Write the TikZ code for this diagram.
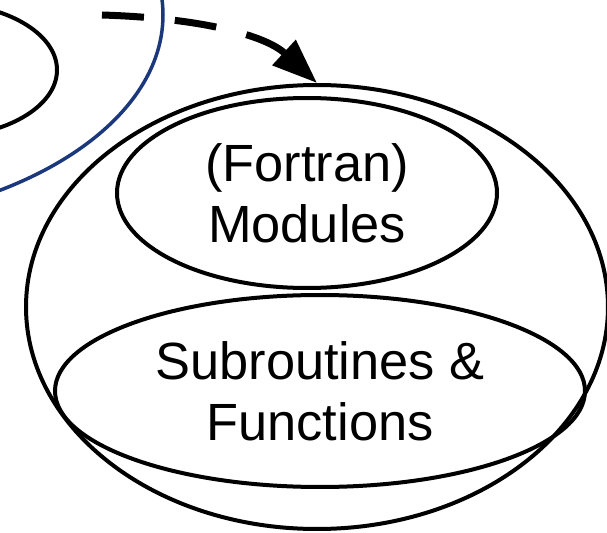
\documentclass[tikz,border=0pt]{standalone}
\usepackage{fontspec}
\setmainfont{Liberation Sans}
\usetikzlibrary{shapes.geometric,arrows.meta}

\begin{document}
\begin{tikzpicture}[
		unit/.style={draw,ellipse,line width=0.08cm,inner sep=0pt,align=center,
			font=\fontsize{29.8}{34.7}\selectfont},
		]
		\useasboundingbox (0,0) rectangle (12.14,10.64);
		\draw [line width=0.08cm] (-1.2,9.24) ellipse [x radius=2.34, y radius=1.34]; % left
		\draw [line width=0.07cm,color={rgb,255:red,28;green,56;blue,125}] (-4.0,10.34) ellipse [x radius=7.26, y radius=4.2];
		\node [unit,minimum width=11.64cm,minimum height=8.88cm] (prog) at (6.34,4.50) {};
		\node [unit,minimum width=7.6cm,minimum height=3.8cm] (mods) at (6.14,6.78) {(Fortran)\\Modules};
		\node [unit,minimum width=10.6cm,minimum height=3.84cm] (subs) at (6.40,2.82) {Subroutines \&\\Functions};
		\coordinate (from) at (2.04,10.34);
		\draw [line width=0.14cm,dash pattern=on 0.84cm off 0.62cm,-{Triangle[length=0.9cm,width=0.66cm]}]
			(from) .. controls (4.0,10.28) and (5.3,9.94) .. (prog.north);
\end{tikzpicture}
\end{document}
